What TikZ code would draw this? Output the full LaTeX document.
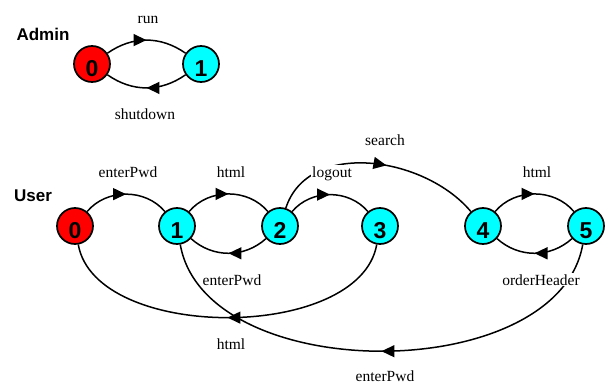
\documentclass[tikz,border=0pt]{standalone}
\usepackage{fontspec}
\setmainfont{Liberation Serif}
\setsansfont{Liberation Sans}
\usepackage{tikz}
\usetikzlibrary{arrows.meta, positioning}
\usetikzlibrary{decorations.markings}
\definecolor{stred}{RGB}{255,0,0}
\definecolor{staqua}{RGB}{0,255,255}

\begin{document}
\begin{tikzpicture}[x=1pt, y=-1pt,
  state/.style={circle, draw, line width=1.7pt, minimum size=36pt, inner sep=0pt,
    text height=24pt, text depth=0pt, font=\sffamily\bfseries\fontsize{23}{23}\selectfont},
  start/.style={state, fill=stred},
  other/.style={state, fill=staqua},
  trans/.style={line width=1.5pt, postaction={decorate},
    decoration={markings, mark=at position #1 with {\arrow{Triangle[length=13pt, width=12pt]}}}},
  trans/.default=0.5,
  lbl/.style={fill=white, inner sep=1pt, anchor=base, font=\fontsize{15.5}{15.5}\selectfont},
  role/.style={anchor=base, font=\sffamily\bfseries\fontsize{17}{17}\selectfont}]
\useasboundingbox (0,0) rectangle (606,383);

% admin
\node[role] (admin) at (43,40) {Admin};
\node[start] (a0) at (92,64) {0};
\node[other] (a1) at (201,64) {1};
\draw[trans] (a0) to[bend left=35] (a1);
\draw[trans] (a1) to[bend left=35] (a0);
\node[lbl] (run) at (148,23) {run};
\node[lbl] (shutdown) at (145,119) {shutdown};

% user
\node[role] (user) at (33,201) {User};
\node[start] (u0) at (75,226) {0};
\node[other] (u1) at (177,226) {1};
\node[other] (u2) at (280,226) {2};
\node[other] (u3) at (380,226) {3};
\node[other] (u4) at (483,226) {4};
\node[other] (u5) at (586,226) {5};
\draw[trans] (u0) to[bend left=50] (u1);
\draw[trans] (u1) to[bend left=50] (u2);
\draw[trans] (u2) to[bend left=42] (u1);
\draw[trans] (u2) to[bend left=50] (u3);
\draw[trans=0.55] (u2) to[out=72, in=130] (u4);
\draw[trans] (u4) to[bend left=50] (u5);
\draw[trans] (u5) to[bend left=42] (u4);
\draw[trans] (u3) to[out=-100, in=-80, looseness=0.85] (u0);
\draw[trans] (u5) to[out=-100, in=-80, looseness=0.92] (u1);
\node[lbl] (pwd1) at (128,177) {enterPwd};
\node[lbl] (html1) at (231,177) {html};
\node[lbl] (logout) at (332,177) {logout};
\node[lbl] (search) at (385,145) {search};
\node[lbl] (html2) at (537,177) {html};
\node[lbl] (pwd2) at (232,285) {enterPwd};
\node[lbl] (order) at (541,285) {orderHeader};
\node[lbl] (html3) at (231,349) {html};
\node[lbl] (pwd3) at (385,381) {enterPwd};
\end{tikzpicture}
\end{document}
